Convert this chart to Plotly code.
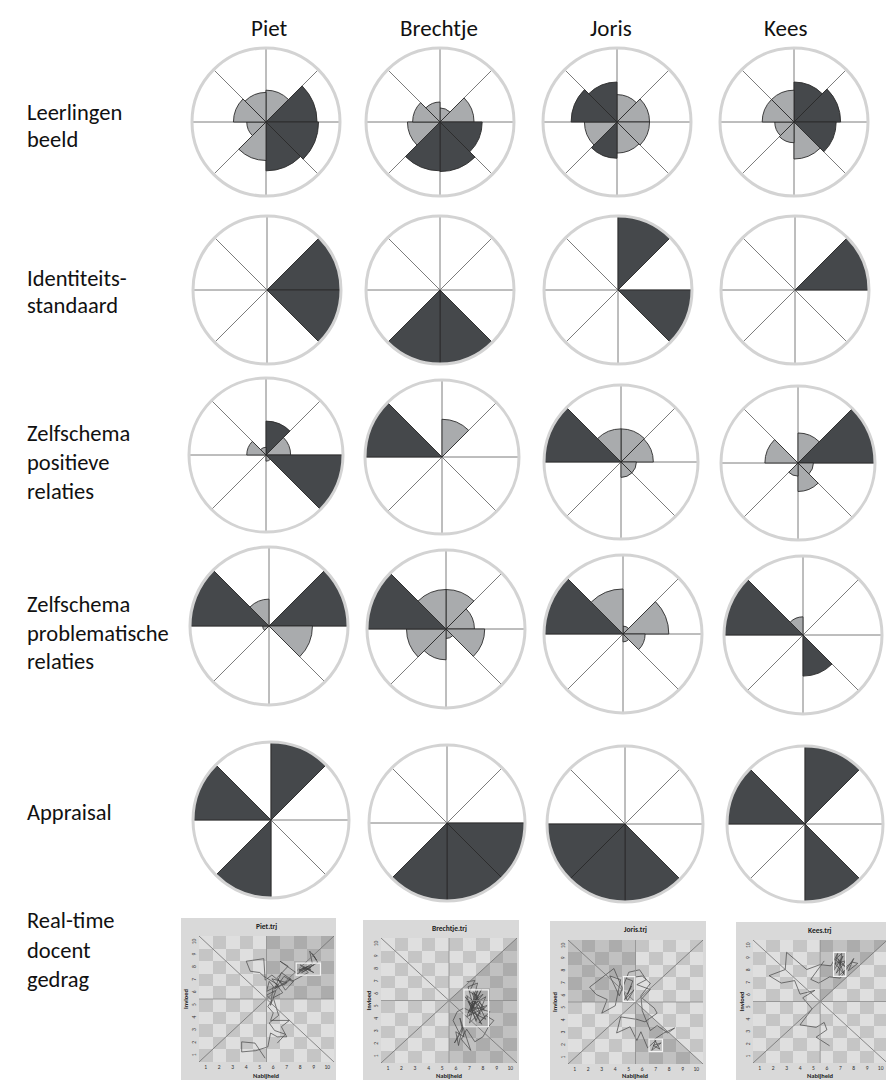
import plotly.graph_objects as go

W, H = 886, 1080

# ---------------------------------------------------------------- data
people = ["Piet", "Brechtje", "Joris", "Kees"]
row_lines = [
    ["Leerlingen", "beeld"],
    ["Identiteits-", "standaard"],
    ["Zelfschema", "positieve", "relaties"],
    ["Zelfschema", "problematische", "relaties"],
    ["Appraisal"],
    ["Real-time", "docent", "gedrag"],
]

# octants, clockwise from 12 o'clock
octants = ["NNE", "ENE", "ESE", "SSE", "SSW", "WSW", "WNW", "NNW"]

# Leerlingen beeld: sector length (share of the ring) and shade, per person
leerlingen_r = [
    [0.43, 0.69, 0.71, 0.66, 0.52, 0.26, 0.44, 0.40],
    [0.19, 0.46, 0.57, 0.67, 0.66, 0.44, 0.37, 0.27],
    [0.37, 0.44, 0.44, 0.42, 0.49, 0.44, 0.62, 0.54],
    [0.54, 0.63, 0.57, 0.50, 0.28, 0.26, 0.43, 0.43],
]
leerlingen_shade = [
    ["l", "d", "d", "d", "l", "l", "l", "l"],
    ["l", "l", "d", "d", "d", "l", "l", "l"],
    ["l", "l", "l", "l", "d", "l", "d", "d"],
    ["d", "d", "d", "l", "l", "l", "l", "l"],
]

# Identiteitsstandaard: octants that are filled
identiteit_dark = [["ENE", "ESE"], ["SSE", "SSW"], ["NNE", "ESE"], ["ENE"]]

# Zelfschema positieve relaties
positieve_r = [
    [0.44, 0.32, 1.00, 0.08, 0.00, 0.00, 0.25, 0.10],
    [0.49, 0.00, 0.00, 0.00, 0.00, 0.00, 1.00, 0.00],
    [0.43, 0.42, 0.20, 0.20, 0.00, 0.00, 1.00, 0.43],
    [0.39, 1.00, 0.20, 0.37, 0.17, 0.00, 0.43, 0.00],
]
positieve_shade = [
    ["d", "l", "d", "l", "", "", "l", "l"],
    ["l", "", "", "", "", "", "d", ""],
    ["l", "l", "l", "l", "", "", "d", "l"],
    ["l", "d", "l", "l", "l", "", "l", ""],
]

# Zelfschema problematische relaties
problematisch_r = [
    [0.00, 1.00, 0.55, 0.00, 0.00, 0.08, 1.00, 0.34],
    [0.50, 0.36, 0.49, 0.12, 0.39, 0.50, 1.00, 0.50],
    [0.10, 0.58, 0.28, 0.10, 0.00, 0.00, 1.00, 0.57],
    [0.00, 0.00, 0.00, 0.52, 0.00, 0.00, 1.00, 0.23],
]
problematisch_shade = [
    ["", "d", "l", "", "", "l", "d", "l"],
    ["l", "l", "l", "l", "l", "l", "d", "l"],
    ["l", "l", "l", "l", "", "", "d", "l"],
    ["", "", "", "d", "", "", "d", "l"],
]

# Appraisal: octants that are filled
appraisal_dark = [["NNE", "SSW", "WNW"], ["ESE", "SSE", "SSW"],
                  ["SSE", "SSW", "WSW"], ["NNE", "SSE", "WNW"]]

# Real-time teacher behaviour (Nabijheid, Invloed)
grid_ticks = [1, 2, 3, 4, 5, 6, 7, 8, 9, 10]
trj_shaded = [["NNE", "ENE"], ["ENE", "ESE", "SSE"], ["WNW", "NNW", "SSE"], ["NNE"]]

piet_x = [5.4, 4.65, 3.66, 3.66, 4.7, 5.6, 5.8, 6.3, 7.0, 6.6, 7.2, 6.5, 5.8, 6.0, 5.6, 5.9,
          5.5, 6.2, 5.8, 6.0, 5.7, 5.5, 6.4, 5.3, 5.0, 4.3, 4.0, 5.3, 5.4, 5.9, 6.8, 7.3, 6.1,
          6.6, 7.5, 6.9, 6.3, 7.1, 6.5, 7.8, 8.6, 7.9, 9.0, 8.1, 8.8, 7.9, 8.9, 8.7, 9.2, 8.9,
          9.3, 8.5, 9.0, 8.2, 8.8, 8.0, 8.6, 7.4, 6.8, 6.2, 7.0, 5.9, 6.7, 6.0, 6.4, 5.7,
          6.1, 6.9, 6.3]
piet_y = [0.8, 2.0, 2.1, 1.3, 1.4, 1.7, 2.8, 2.5, 2.5, 3.3, 3.8, 3.8, 3.8, 4.4, 4.9, 5.4,
          5.8, 6.2, 5.0, 6.5, 6.9, 6.1, 6.6, 7.3, 7.6, 7.7, 8.5, 8.7, 7.0, 7.4, 6.6, 7.1, 6.3,
          7.6, 6.9, 6.2, 7.2, 8.1, 8.5, 7.5, 8.1, 7.8, 8.2, 7.6, 8.0, 7.7, 8.3, 9.3, 8.6, 9.1,
          8.4, 7.9, 7.6, 8.0, 7.8, 8.2, 7.6, 6.9, 7.3, 6.4, 6.8, 7.1, 6.0, 5.6, 4.2, 3.6,
          3.0, 2.7, 2.0]

brechtje_x = [6.8, 7.4, 7.0, 7.6, 7.1, 7.9, 7.3, 8.2, 7.5, 6.9, 7.8, 7.2, 8.1, 6.8, 7.6, 7.0,
              8.3, 7.4, 6.7, 7.9, 7.1, 8.0, 6.9, 7.5, 8.2, 6.6, 6.1, 5.8, 6.3, 5.9, 6.5, 6.2,
              6.0, 6.6, 6.3, 7.1, 6.4, 6.8, 7.4, 8.0, 8.4, 8.8, 8.2, 7.7, 8.5, 7.3, 6.9, 7.6,
              7.0, 7.8, 7.3, 8.1, 6.8, 7.5]
brechtje_y = [7.0, 7.1, 6.2, 5.9, 4.6, 6.4, 5.2, 5.8, 3.9, 5.5, 4.4, 6.1, 4.9, 4.2, 6.3, 3.7,
              5.1, 4.8, 5.8, 3.6, 5.3, 6.0, 4.5, 5.6, 4.0, 4.9, 4.6, 3.9, 2.8, 2.1, 3.4, 1.9,
              3.0, 2.6, 4.1, 1.5, 2.4, 3.2, 2.2, 2.6, 3.4, 3.9, 4.3, 3.7, 4.6, 5.0, 6.6, 6.9,
              4.3, 5.4, 6.2, 4.7, 5.9, 3.8]

joris_x = [4.8, 5.3, 4.9, 5.2, 4.7, 5.4, 4.9, 3.9, 2.1, 2.6, 3.4, 3.0, 4.0, 4.4, 3.6, 4.3,
           5.0, 5.8, 6.3, 5.6, 6.6, 6.0, 6.9, 7.1, 6.2, 5.6, 4.4, 4.1, 5.1, 5.6, 5.9, 6.4,
           7.0, 6.7, 7.4, 6.8, 7.3, 6.9, 7.6, 8.4, 7.9, 7.1, 6.6, 6.0, 5.9, 6.6, 6.0, 5.4]
joris_y = [7.4, 7.2, 6.1, 6.8, 5.7, 6.5, 5.6, 8.2, 6.7, 6.1, 5.7, 4.6, 5.2, 7.3, 7.6, 6.0,
           7.9, 8.1, 7.3, 6.9, 6.5, 5.8, 5.0, 4.6, 3.9, 4.1, 4.3, 3.0, 3.5, 2.4, 3.1, 1.8,
           2.4, 1.6, 2.2, 2.0, 1.7, 2.5, 3.0, 3.4, 3.0, 3.6, 3.2, 4.8, 6.0, 7.0, 7.6, 7.5]

kees_x = [6.2, 5.2, 6.0, 5.8, 5.2, 4.0, 4.9, 4.2, 5.1, 4.0, 3.6, 2.6, 1.7, 2.9, 3.0, 3.9,
          4.5, 5.5, 6.3, 6.8, 6.5, 7.2, 6.7, 7.4, 6.6, 7.3, 6.8, 7.5, 6.9, 7.1, 6.6, 7.4,
          7.9, 8.3, 7.6, 8.0, 7.0, 6.2, 5.4, 4.8, 5.8]
kees_y = [1.9, 2.6, 3.2, 3.8, 3.4, 3.6, 4.9, 5.8, 6.4, 6.1, 7.2, 7.0, 7.6, 8.1, 9.5, 8.7,
          8.1, 8.5, 8.4, 9.4, 8.0, 9.2, 7.8, 8.8, 8.6, 7.7, 9.0, 8.2, 7.6, 9.4, 8.9, 8.3,
          8.7, 8.6, 8.0, 9.0, 7.4, 7.5, 7.0, 7.3, 8.8]

# attractor boxes per person: (x0, y0, x1, y1)
trj_boxes = [
    [(7.7, 7.4, 9.5, 8.35)],
    [(6.6, 3.4, 8.4, 6.35)],
    [(4.6, 5.55, 5.45, 7.55), (6.5, 1.5, 7.5, 2.5)],
    [(6.5, 7.55, 7.4, 9.5)],
]
trj_x = [piet_x, brechtje_x, joris_x, kees_x]
trj_y = [piet_y, brechtje_y, joris_y, kees_y]

# ---------------------------------------------------------------- styling / geometry
FONT = "Calibri, Carlito, Lato, sans-serif"
DARK, LIGHT, EDGE = "#45484b", "#a9abad", "#2b2b2b"
SHADE_COLOR = {"d": DARK, "l": LIGHT}

wheel_cx = [[266, 440, 617, 794], [267, 440, 618, 795], [266, 442, 621, 798],
            [269, 446, 623, 803], [271, 447, 625, 805]]
wheel_cy = [[122] * 4, [290] * 4, [455, 457, 462, 463], [626, 629, 634, 635], [820, 823, 824, 824]]
wheel_rad = [74, 74, 77, 79, 78]

# plot areas (px): x0, x1, y0 (top), y1 (bottom) and surrounding panel
trj_area = [(199, 334, 936, 1062), (381, 517, 938, 1063), (568, 703, 940, 1064), (753, 886, 940, 1063)]
trj_panel = [(181, 336, 918, 1080), (363, 519, 920, 1080), (550, 706, 921, 1080), (736, 886, 922, 1080)]
trj_xmax = [10.5, 10.5, 10.5, 10.4]


def fx(px):
    return px / W


def fy(py):
    return 1 - py / H


def label(text, px, py, size, **kw):
    color = kw.pop("color", "#111")
    kw.setdefault("xanchor", "center")
    return dict(text=text, x=fx(px), y=fy(py), xref="paper", yref="paper", showarrow=False,
                yanchor="middle", font=dict(size=size, color=color, family=FONT), **kw)


def from_dark(dark):
    return [1.0 if o in dark else 0.0 for o in octants], ["d" if o in dark else "" for o in octants]


identiteit = [from_dark(d) for d in identiteit_dark]
appraisal = [from_dark(d) for d in appraisal_dark]
wheel_rows = [
    list(zip(leerlingen_r, leerlingen_shade)),
    identiteit,
    list(zip(positieve_r, positieve_shade)),
    list(zip(problematisch_r, problematisch_shade)),
    appraisal,
]
theta_mid = [22.5 + 45 * k for k in range(len(octants))]

fig = go.Figure()
layout = {}
pidx = 0
for row, wheels in enumerate(wheel_rows):
    for col, (radii, shades) in enumerate(wheels):
        pidx += 1
        pname = "polar" if pidx == 1 else f"polar{pidx}"
        keep = [i for i, r in enumerate(radii) if r > 0 and shades[i]]
        fig.add_trace(go.Barpolar(
            r=[radii[i] for i in keep],
            theta=[theta_mid[i] for i in keep],
            width=[45] * len(keep),
            marker=dict(color=[SHADE_COLOR[shades[i]] for i in keep],
                        line=dict(color=EDGE, width=0.9)),
            subplot=pname, showlegend=False, hoverinfo="skip",
        ))
        cx, cy, rad = wheel_cx[row][col], wheel_cy[row][col], wheel_rad[row]
        layout[pname] = dict(
            domain=dict(x=[fx(cx - rad), fx(cx + rad)], y=[fy(cy + rad), fy(cy - rad)]),
            bgcolor="white", bargap=0, hole=0,
            radialaxis=dict(range=[0, 1], showticklabels=False, ticks="", showgrid=False,
                            showline=False),
            angularaxis=dict(rotation=90, direction="clockwise",
                             tickvals=[0, 45, 90, 135, 180, 225, 270, 315],
                             showticklabels=False, ticks="", showgrid=True,
                             gridcolor="#7c7c7c", gridwidth=1.3,
                             showline=True, linecolor="#d3d3d3", linewidth=3),
        )

# ---------------------------------------------------------------- trajectory panels
C, LO, HI = 5.5, 0.5, 10.5
octant_poly = {
    "NNE": [(C, C), (C, HI), (HI, HI)],
    "ENE": [(C, C), (HI, HI), (HI, C)],
    "ESE": [(C, C), (HI, C), (HI, LO)],
    "SSE": [(C, C), (HI, LO), (C, LO)],
    "SSW": [(C, C), (C, LO), (LO, LO)],
    "WSW": [(C, C), (LO, LO), (LO, C)],
    "WNW": [(C, C), (LO, C), (LO, HI)],
    "NNW": [(C, C), (LO, HI), (C, HI)],
}
# checkerboard background, (1,1) is a dark square
checker = [[1 - (i + j) % 2 for i in range(len(grid_ticks))] for j in range(len(grid_ticks))]

shapes = []
annotations = []
for k, name in enumerate(people):
    suf = "" if k == 0 else str(k + 1)
    xa, ya = "x" + suf, "y" + suf
    x0, x1, y0, y1 = trj_area[k]
    bx0, bx1, by0, by1 = trj_panel[k]
    shapes.append(dict(type="rect", xref="paper", yref="paper", x0=fx(bx0), x1=fx(bx1),
                       y0=fy(by1), y1=fy(by0), fillcolor="#d9d9d9", line=dict(width=0),
                       layer="below"))
    fig.add_trace(go.Heatmap(z=checker, x=grid_ticks, y=grid_ticks, xaxis=xa, yaxis=ya,
                             colorscale=[[0, "#dfdfdf"], [1, "#c5c5c5"]], zmin=0, zmax=1,
                             showscale=False, hoverinfo="skip", xgap=0, ygap=0))
    for o in trj_shaded[k]:
        pts = octant_poly[o] + [octant_poly[o][0]]
        fig.add_trace(go.Scatter(x=[p[0] for p in pts], y=[p[1] for p in pts], xaxis=xa,
                                 yaxis=ya, mode="lines", fill="toself",
                                 fillcolor="rgba(60,60,60,0.18)", line=dict(width=0),
                                 showlegend=False, hoverinfo="skip"))
    fig.add_trace(go.Scatter(x=trj_x[k], y=trj_y[k], xaxis=xa, yaxis=ya, mode="lines",
                             line=dict(color="#444444", width=0.7), showlegend=False,
                             hoverinfo="skip"))
    # reference lines: diagonals and mid lines
    for (lx0, ly0, lx1, ly1, col) in [(LO, LO, HI, HI, "#707070"), (LO, HI, HI, LO, "#707070"),
                                      (LO, C, HI, C, "#8c8c8c"), (C, LO, C, HI, "#8c8c8c")]:
        shapes.append(dict(type="line", xref=xa, yref=ya, x0=lx0, y0=ly0, x1=lx1, y1=ly1,
                           line=dict(color=col, width=0.8), layer="above"))
    for (rx0, ry0, rx1, ry1) in trj_boxes[k]:
        shapes.append(dict(type="rect", xref=xa, yref=ya, x0=rx0, y0=ry0, x1=rx1, y1=ry1,
                           line=dict(color="#f4f4f4", width=1.2), layer="above"))
    layout["xaxis" + suf] = dict(domain=[fx(x0), fx(x1)], range=[LO, trj_xmax[k]], anchor=ya,
                                 tickvals=grid_ticks, ticks="", showgrid=False, zeroline=False,
                                 showline=False, tickfont=dict(size=5.5, color="#333", family=FONT),
                                 ticklabelstandoff=0)
    layout["yaxis" + suf] = dict(domain=[fy(y1), fy(y0)], range=[LO, HI], anchor=xa,
                                 tickvals=grid_ticks, ticks="", showgrid=False, zeroline=False,
                                 showline=False, tickangle=-90,
                                 tickfont=dict(size=5.5, color="#333", family=FONT),
                                 ticklabelstandoff=1)
    xc = (x0 + x1) / 2 if k < 3 else (x0 + 887) / 2
    annotations.append(label(f"<b>{name}.trj</b>", xc, by0 + 8, 7.5, color="#222"))
    annotations.append(label("<b>Nabijheid</b>", xc, 1076, 6.5, color="#222"))
    annotations.append(label("<b>Invloed</b>", bx0 + 5, (y0 + y1) / 2, 6.5, color="#222",
                             textangle=-90))

# ---------------------------------------------------------------- headers and row labels
header_x = [269, 439, 611, 785]
for name, hx in zip(people, header_x):
    annotations.append(label(name, hx, 28, 23))

line_y = [[112, 139], [278, 305], [433, 462, 491], [604, 633, 661], [812], [920, 950, 979]]
for lines, ys in zip(row_lines, line_y):
    for txt, ly in zip(lines, ys):
        annotations.append(label(txt, 25, ly, 22.5, xanchor="left"))

fig.update_layout(
    width=W, height=H, margin=dict(l=0, r=0, t=0, b=0),
    paper_bgcolor="white", plot_bgcolor="white", showlegend=False,
    shapes=shapes, annotations=annotations, **layout,
)

fig.write_html("out.html")
